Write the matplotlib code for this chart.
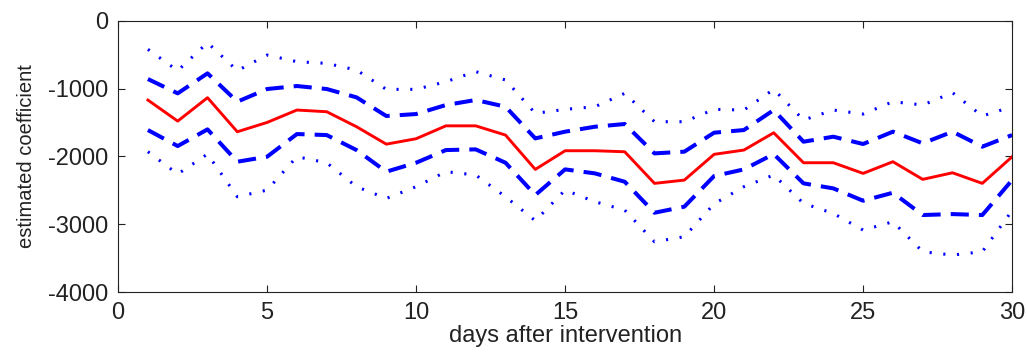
import matplotlib
matplotlib.use("Agg")
import matplotlib.pyplot as plt

days = list(range(1, 31))

# point estimate
est = [-1170, -1480, -1135, -1637, -1500, -1317, -1342, -1563, -1820, -1740,
       -1550, -1550, -1686, -2192, -1917, -1917, -1932, -2398, -2350, -1970,
       -1907, -1652, -2094, -2094, -2251, -2079, -2339, -2242, -2398, -2006]

# inner band (dashed)
upper1 = [-860, -1071, -776, -1194, -1007, -963, -1007, -1130, -1405, -1376,
          -1243, -1169, -1268, -1735, -1636, -1563, -1523, -1956, -1931, -1651,
          -1612, -1317, -1784, -1710, -1818, -1636, -1808, -1636, -1857, -1686]
lower1 = [-1612, -1848, -1602, -2079, -2005, -1671, -1686, -1907, -2226, -2094,
          -1907, -1897, -2094, -2570, -2192, -2251, -2374, -2831, -2742, -2290,
          -2192, -1966, -2398, -2472, -2654, -2536, -2865, -2851, -2865, -2349]

# outer band (dotted)
upper2 = [-422, -737, -324, -737, -506, -604, -629, -727, -1012, -1012,
          -899, -751, -874, -1366, -1307, -1268, -1071, -1489, -1489, -1307,
          -1317, -1012, -1464, -1317, -1376, -1194, -1243, -1061, -1405, -1268]
lower2 = [-1931, -2261, -1966, -2595, -2497, -2005, -2094, -2447, -2620, -2447,
          -2226, -2275, -2595, -2949, -2497, -2669, -2792, -3259, -3185, -2700,
          -2447, -2275, -2693, -2841, -3087, -2964, -3406, -3455, -3406, -2800]

plt.rcParams['font.family'] = ['Liberation Sans', 'DejaVu Sans']
plt.rcParams['axes.unicode_minus'] = False

fig = plt.figure(figsize=(10.27, 3.57), dpi=100)
ax = fig.add_axes([0.115, 0.182, 0.8705, 0.76])

dot = (0, (0.7, 3.8))
dash = (0, (4.5, 2.5))
ax.plot(days, upper2, color='blue', linestyle=dot, linewidth=2.2)
ax.plot(days, lower2, color='blue', linestyle=dot, linewidth=2.2)
ax.plot(days, upper1, color='blue', linestyle=dash, linewidth=2.9)
ax.plot(days, lower1, color='blue', linestyle=dash, linewidth=2.9)
ax.plot(days, est, color='red', linewidth=2.1)

ax.set_xlim(0, 30)
ax.set_ylim(-4000, 0)
ax.set_xticks(range(0, 31, 5))
ax.set_yticks(range(-4000, 1, 1000))
ax.tick_params(direction='in', top=True, right=True, length=5, labelsize=17,
               colors='#222222')
ax.tick_params(axis='x', pad=7)
ax.tick_params(axis='y', pad=7)
for s in ax.spines.values():
    s.set_color('#222222')

ax.set_xlabel("days after intervention", fontsize=17, color='#222222', labelpad=1)
ax.set_ylabel("estimated coefficient", fontsize=14.5, color='#222222', labelpad=9)

fig.savefig("out.png", dpi=100)
